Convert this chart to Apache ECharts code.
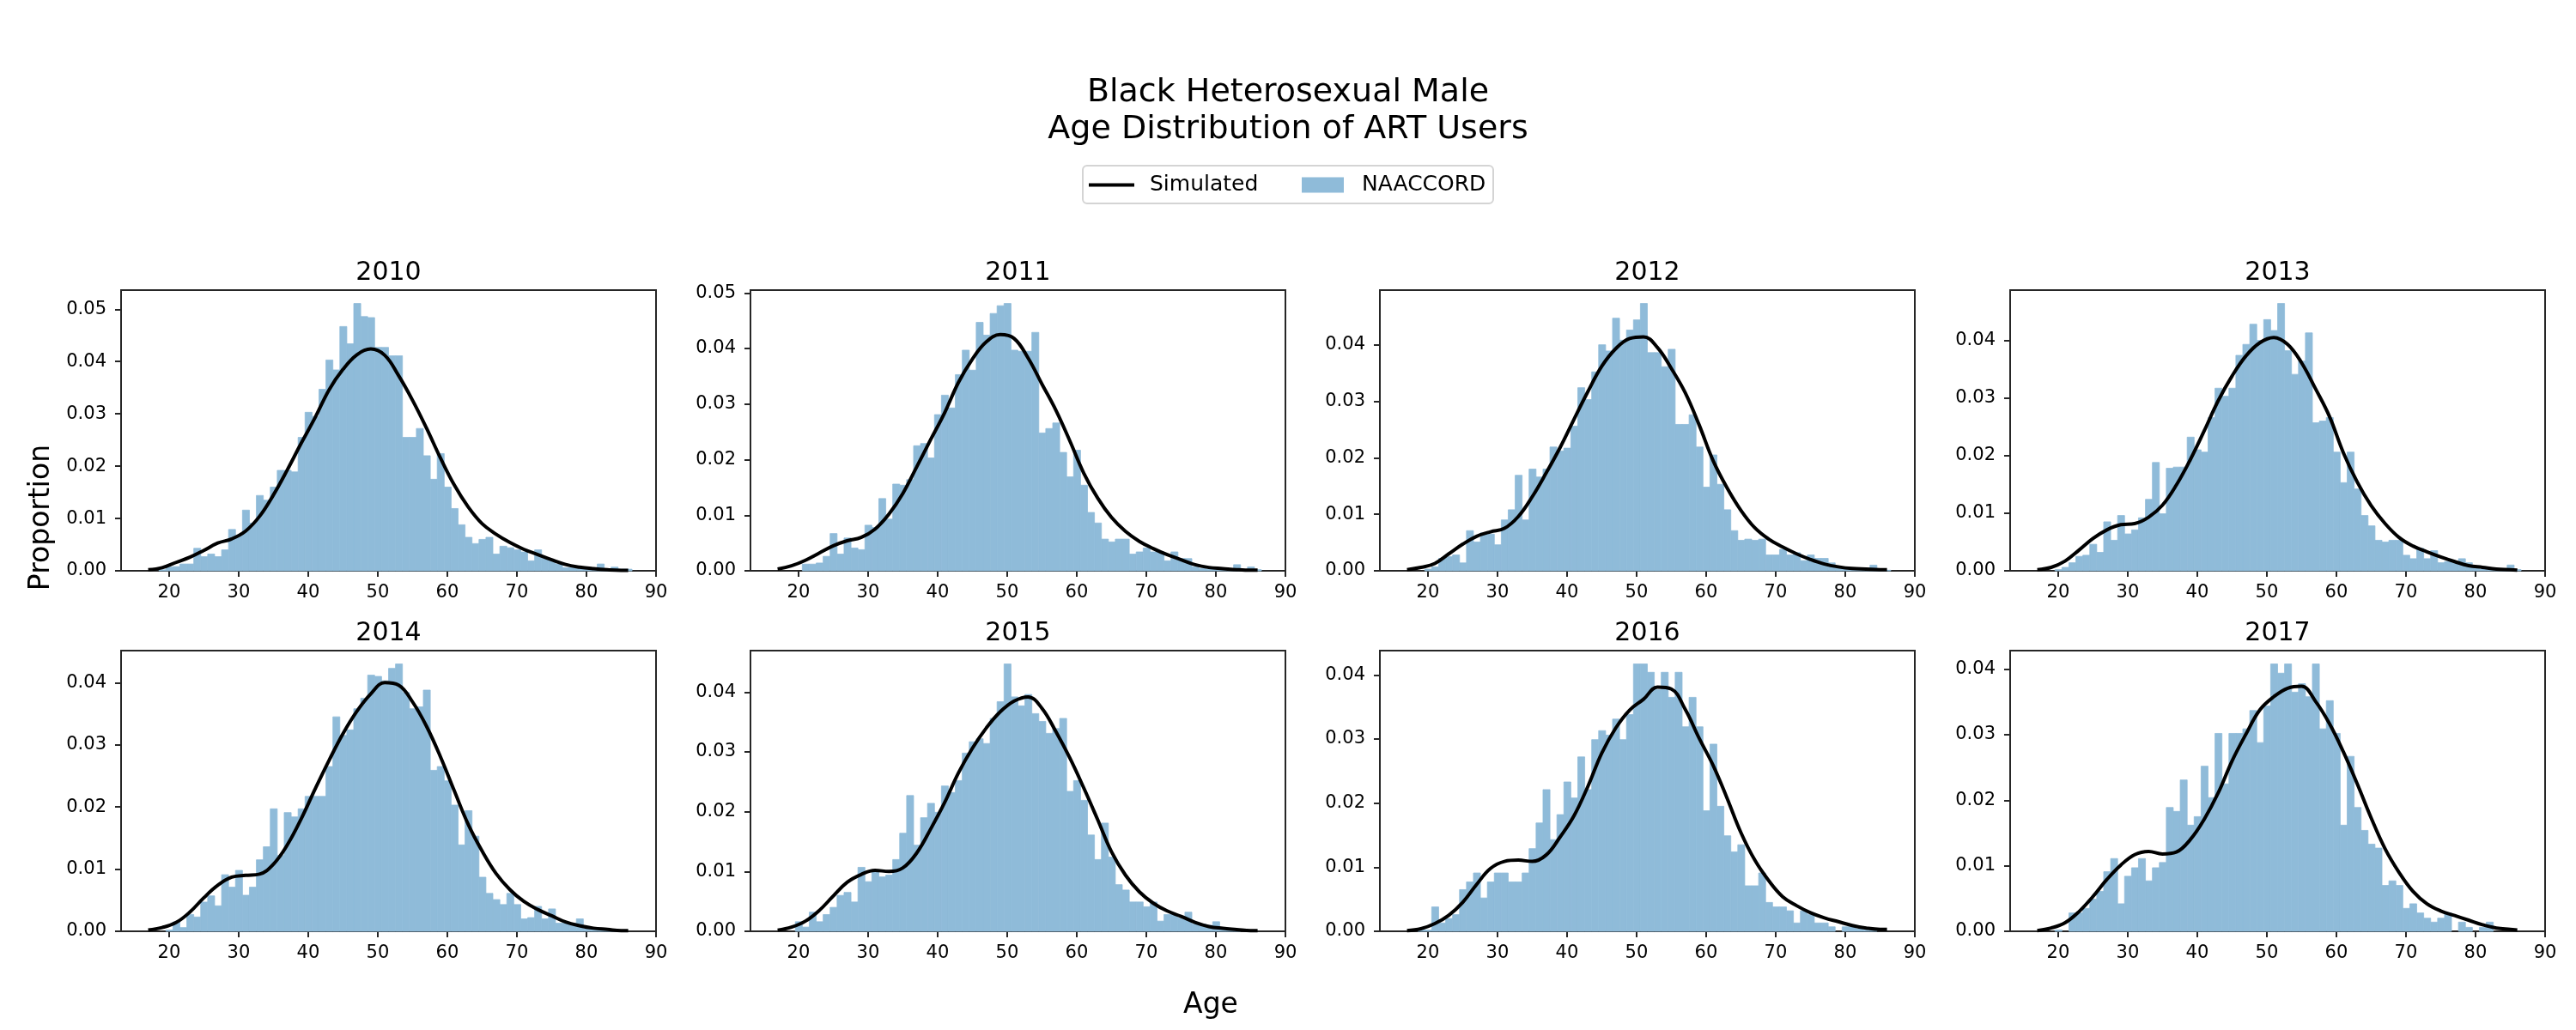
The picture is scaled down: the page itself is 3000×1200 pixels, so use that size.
<!DOCTYPE html>
<html>
<head>
<meta charset="utf-8">
<title>Black Heterosexual Male - Age Distribution of ART Users</title>
<script src="https://cdn.jsdelivr.net/npm/echarts@6/dist/echarts.min.js"></script>
<style>
  html, body { margin: 0; padding: 0; background: #fff; }
  #chart { width: 3000px; height: 1200px; }
</style>
</head>
<body>
<div id="chart"></div>
<script>
const years = ['2010', '2011', '2012', '2013', '2014', '2015', '2016', '2017']

// histogram bins (one per year of age)
const ages = [
  19, 20, 21, 22, 23, 24, 25, 26, 27, 28,
  29, 30, 31, 32, 33, 34, 35, 36, 37, 38,
  39, 40, 41, 42, 43, 44, 45, 46, 47, 48,
  49, 50, 51, 52, 53, 54, 55, 56, 57, 58,
  59, 60, 61, 62, 63, 64, 65, 66, 67, 68,
  69, 70, 71, 72, 73, 74, 75, 76, 77, 78,
  79, 80, 81, 82, 83, 84, 85, 86
]

// ages where the simulated curve was read
const kdeAges = [17, 19, 21, 23, 25, 27, 29, 31, 33, 35, 37, 39, 41, 43, 45, 47, 49, 51,
  53, 55, 57, 59, 61, 63, 65, 67, 69, 71, 73, 75, 77, 79, 81, 83, 85, 86]

const xTicks = [20, 30, 40, 50, 60, 70, 80, 90]

const naaccord2010 = [
  .0002, .0007, .0008, .0013, .0013, .0043, .0027, .0032, .0027, .0040,
  .0079, .0067, .0116, .0091, .0144, .0135, .0160, .0192, .0192, .0189,
  .0255, .0303, .0295, .0347, .0403, .0384, .0467, .0434, .0511, .0486,
  .0484, .0427, .0427, .0411, .0411, .0255, .0255, .0272, .0220, .0175,
  .0224, .0160, .0119, .0088, .0064, .0052, .0060, .0064, .0032, .0047,
  .0044, .0040, .0036, .0019, .0040, .0024, .0019, .0013, .0006, .0006,
  .0004, .0004, .0003, .0013, .0003, .0007, .0003, .0003
]
const naaccord2011 = [
  0, 0, .0012, .0012, .0014, .0026, .0067, .0030, .0059, .0041,
  .0038, .0082, .0078, .0130, .0093, .0156, .0154, .0164, .0225, .0229,
  .0203, .0281, .0316, .0293, .0353, .0397, .0361, .0447, .0424, .0463,
  .0477, .0481, .0397, .0395, .0395, .0429, .0248, .0256, .0266, .0213,
  .0169, .0217, .0154, .0105, .0086, .0057, .0052, .0057, .0057, .0030,
  .0034, .0041, .0034, .0034, .0018, .0034, .0022, .0022, .0007, .0004,
  .0003, .0003, .0002, .0002, .0011, .0002, .0007, .0002
]
const naaccord2012 = [
  0, .0003, .0007, .0022, .0025, .0028, .0014, .0071, .0051, .0067,
  .0065, .0046, .0090, .0108, .0169, .0090, .0180, .0166, .0180, .0219,
  .0212, .0217, .0256, .0324, .0303, .0352, .0400, .0389, .0447, .0408,
  .0426, .0444, .0473, .0386, .0386, .0361, .0392, .0259, .0259, .0276,
  .0219, .0148, .0205, .0153, .0108, .0071, .0054, .0056, .0054, .0056,
  .0028, .0028, .0038, .0028, .0032, .0018, .0028, .0022, .0022, .0014,
  .0007, .0004, .0003, .0002, .0002, .0010, .0002, .0001
]
const naaccord2013 = [
  0, .0002, .0006, .0014, .0025, .0027, .0046, .0032, .0085, .0053,
  .0096, .0064, .0071, .0092, .0124, .0188, .0099, .0178, .0180, .0180,
  .0232, .0210, .0206, .0266, .0317, .0303, .0317, .0374, .0393, .0428,
  .0400, .0436, .0417, .0464, .0382, .0341, .0364, .0413, .0257, .0260,
  .0266, .0206, .0153, .0206, .0142, .0096, .0078, .0053, .0050, .0053,
  .0053, .0027, .0021, .0039, .0021, .0035, .0014, .0016, .0014, .0021,
  .0014, .0005, .0003, .0003, .0002, .0002, .0010, .0002
]
const naaccord2014 = [
  0, .0002, .0015, .0006, .0027, .0023, .0047, .0057, .0041, .0091,
  .0071, .0098, .0058, .0071, .0115, .0136, .0197, .0122, .0191, .0184,
  .0197, .0217, .0217, .0217, .0265, .0345, .0315, .0324, .0358, .0375,
  .0412, .0410, .0403, .0423, .0430, .0384, .0358, .0361, .0388, .0259,
  .0265, .0242, .0203, .0139, .0194, .0153, .0087, .0061, .0051, .0043,
  .0061, .0043, .0020, .0022, .0040, .0020, .0036, .0013, .0013, .0013,
  .0020, .0004, .0003, .0002, .0001, .0001, .0001, 0
]
const naaccord2015 = [
  0, .0016, .0007, .0032, .0016, .0028, .0040, .0060, .0065, .0049,
  .0107, .0083, .0100, .0091, .0094, .0120, .0164, .0227, .0144, .0190,
  .0214, .0199, .0243, .0232, .0252, .0298, .0317, .0322, .0314, .0356,
  .0384, .0447, .0392, .0377, .0396, .0364, .0351, .0331, .0339, .0356,
  .0234, .0252, .0219, .0161, .0120, .0181, .0124, .0078, .0069, .0049,
  .0049, .0041, .0049, .0017, .0028, .0028, .0022, .0032, .0012, .0012,
  .0010, .0016, .0003, .0001, .0001, 0, 0, 0
]
const naaccord2016 = [
  .0002, .0002, .0038, .0013, .0020, .0026, .0065, .0077, .0091, .0052,
  .0077, .0091, .0091, .0077, .0077, .0091, .0129, .0169, .0221, .0143,
  .0182, .0233, .0208, .0272, .0221, .0299, .0313, .0306, .0331, .0299,
  .0338, .0417, .0417, .0404, .0377, .0404, .0365, .0404, .0319, .0365,
  .0319, .0188, .0292, .0195, .0149, .0124, .0135, .0071, .0071, .0091,
  .0045, .0038, .0038, .0032, .0013, .0032, .0026, .0013, .0013, .0007,
  0, .0007, .0007, .0004, .0002, .0002, 0, 0
]
const naaccord2017 = [
  0, .0002, 0, .0028, .0028, .0035, .0049, .0061, .0091, .0111,
  .0042, .0084, .0097, .0111, .0077, .0097, .0105, .0189, .0183, .0231,
  .0162, .0175, .0252, .0204, .0302, .0225, .0302, .0302, .0309, .0337,
  .0288, .0344, .0408, .0394, .0408, .0365, .0378, .0358, .0408, .0309,
  .0352, .0302, .0162, .0267, .0189, .0154, .0133, .0127, .0070, .0077,
  .0070, .0035, .0042, .0028, .0020, .0014, .0020, .0028, 0, .0014,
  .0006, 0, .0006, .0014, 0, 0, 0, 0
]

const simulated2010 = [.0002, .0006, .0016, .0026, .0039, .0053, .0061, .0076, .0104, .0145,
  .0193, .0244, .0293, .0346, .0385, .0413, .0424, .0412, .0373, .0326, .0273, .0216,
  .0164, .0122, .0090, .0070, .0054, .0041, .0031, .0021, .0012, .0007, .0004, .0002, .0001, .0001]
const simulated2011 = [.0003, .0009, .0019, .0032, .0045, .0054, .0060, .0075, .0102, .0139,
  .0187, .0236, .0284, .0339, .0381, .0412, .0425, .0418, .0383, .0336, .0289, .0234,
  .0176, .0131, .0096, .0071, .0053, .0040, .0029, .0020, .0011, .0006, .0004, .0002, .0001, .0001]
const simulated2012 = [.0002, .0006, .0013, .0030, .0047, .0061, .0069, .0075, .0096, .0131,
  .0173, .0218, .0268, .0317, .0362, .0393, .0411, .0414, .0395, .0358, .0315, .0258,
  .0195, .0147, .0107, .0076, .0056, .0042, .0030, .0020, .0012, .0007, .0004, .0003, .0002, .0002]
const simulated2013 = [.0002, .0006, .0017, .0036, .0056, .0071, .0080, .0082, .0093, .0114,
  .0149, .0193, .0243, .0295, .0338, .0373, .0396, .0405, .0393, .0361, .0316, .0268,
  .0205, .0154, .0113, .0082, .0058, .0043, .0033, .0024, .0016, .0009, .0006, .0003, .0002, .0001]
const simulated2014 = [.0002, .0006, .0014, .0031, .0054, .0074, .0087, .0090, .0092, .0108,
  .0139, .0181, .0229, .0275, .0318, .0354, .0382, .0400, .0396, .0369, .0330, .0281,
  .0226, .0172, .0129, .0093, .0067, .0048, .0035, .0025, .0015, .0009, .0005, .0003, .0001, .0001]
const simulated2015 = [.0002, .0007, .0017, .0035, .0059, .0082, .0095, .0102, .0100, .0106,
  .0131, .0171, .0215, .0265, .0306, .0340, .0367, .0385, .0392, .0373, .0334, .0290,
  .0240, .0187, .0133, .0094, .0066, .0047, .0034, .0025, .0015, .0008, .0005, .0003, .0001, .0001]
const simulated2016 = [.0001, .0004, .0012, .0025, .0045, .0073, .0098, .0109, .0111, .0109,
  .0119, .0147, .0180, .0226, .0278, .0317, .0345, .0362, .0381, .0378, .0346, .0301,
  .0259, .0208, .0154, .0111, .0079, .0054, .0040, .0029, .0021, .0015, .0009, .0005, .0003, .0003]
const simulated2017 = [.0001, .0005, .0013, .0030, .0053, .0079, .0101, .0117, .0122, .0118,
  .0121, .0140, .0171, .0211, .0260, .0301, .0338, .0358, .0371, .0374, .0351, .0317,
  .0274, .0225, .0173, .0126, .0090, .0061, .0042, .0031, .0024, .0017, .0010, .0005, .0003, .0002]

const naaccord = [naaccord2010, naaccord2011, naaccord2012, naaccord2013,
  naaccord2014, naaccord2015, naaccord2016, naaccord2017]
const simulated = [simulated2010, simulated2011, simulated2012, simulated2013,
  simulated2014, simulated2015, simulated2016, simulated2017]

const font = 'DejaVu Sans'
const ink = '#262626'
const barColor = '#8fbbd9'
const panelLeft = [141, 874, 1607, 2341]
const panelTop = [338, 758]
const panelW = 623
const panelH = 327

// bins run from age - 0.45 to age + 0.55; a thin same-colour stroke hides seams
const renderBin = (params, api) => {
  const a = api.value(0)
  const v = api.value(1)
  if (!v) return null
  const p0 = api.coord([a - 0.45, v])
  const p1 = api.coord([a + 0.55, 0])
  return {
    type: 'rect',
    shape: { x: p0[0], y: p0[1], width: p1[0] - p0[0], height: p1[1] - p0[1] },
    style: { fill: barColor, stroke: barColor, lineWidth: 0.8 }
  }
}

const grid = []
const xAxis = []
const yAxis = []
const series = []
const title = [{
  text: 'Black Heterosexual Male\nAge Distribution of ART Users',
  left: 1500,
  top: 87,
  textAlign: 'center',
  padding: 0,
  textStyle: { fontSize: 38, fontWeight: 'normal', color: '#000', fontFamily: font, lineHeight: 43 }
}]

years.forEach((yr, i) => {
  const left = panelLeft[i % 4]
  const top = panelTop[Math.floor(i / 4)]
  const yMax = Math.max(...naaccord[i]) * 1.05
  const yTicks = []
  for (let k = 0; k * 0.01 <= yMax + 1e-9; k++) yTicks.push(+(k * 0.01).toFixed(2))

  grid.push({
    left, top, width: panelW, height: panelH,
    show: true, borderColor: ink, borderWidth: 2, backgroundColor: 'transparent',
    outerBoundsMode: 'none'
  })
  xAxis.push({
    type: 'value', gridIndex: i, min: 13.1, max: 90,
    axisLine: { show: false },
    splitLine: { show: false },
    axisTick: { show: true, length: 7, lineStyle: { color: ink, width: 2 }, customValues: xTicks },
    axisLabel: { customValues: xTicks, fontSize: 21, color: '#000', margin: 15, fontFamily: font }
  })
  yAxis.push({
    type: 'value', gridIndex: i, min: 0, max: yMax,
    axisLine: { show: false },
    splitLine: { show: false },
    axisTick: { show: true, length: 7, lineStyle: { color: ink, width: 2 }, customValues: yTicks },
    axisLabel: {
      customValues: yTicks, fontSize: 21, color: '#000', margin: 17, fontFamily: font,
      formatter: v => v.toFixed(2)
    }
  })
  series.push({
    name: 'NAACCORD',
    type: 'custom',
    xAxisIndex: i,
    yAxisIndex: i,
    renderItem: renderBin,
    itemStyle: { color: barColor },
    encode: { x: 0, y: 1 },
    data: ages.map((a, k) => [a, naaccord[i][k]]),
    z: 1,
    silent: true
  })
  series.push({
    name: 'Simulated',
    type: 'line',
    xAxisIndex: i,
    yAxisIndex: i,
    data: kdeAges.map((a, k) => [a, simulated[i][k]]),
    symbol: 'none',
    showSymbol: false,
    smooth: 0.4,
    lineStyle: { color: '#000', width: 4 },
    itemStyle: { color: '#000' },
    z: 3,
    silent: true
  })
  title.push({
    text: yr,
    left: left + panelW / 2,
    top: top - 35,
    textAlign: 'center',
    padding: 0,
    textStyle: { fontSize: 30, fontWeight: 'normal', color: '#000', fontFamily: font, lineHeight: 30 }
  })
})

const chart = echarts.init(document.getElementById('chart'))

chart.setOption({
  animation: false,
  backgroundColor: '#fff',
  textStyle: { fontFamily: font },
  title,
  legend: [
    {
      data: [{ name: 'Simulated', icon: 'rect', itemStyle: { borderWidth: 0 } }],
      left: 1268, top: 203, padding: 0,
      itemWidth: 53, itemHeight: 4,
      selectedMode: false, z: 5,
      textStyle: { fontSize: 25, color: '#000', fontFamily: font, lineHeight: 24, padding: [0, 0, 0, 13] }
    },
    {
      data: [{ name: 'NAACCORD', icon: 'rect', itemStyle: { borderWidth: 0 } }],
      left: 1516, top: 203, padding: 0,
      itemWidth: 49, itemHeight: 18,
      selectedMode: false, z: 5,
      textStyle: { fontSize: 25, color: '#000', fontFamily: font, lineHeight: 24, padding: [0, 0, 0, 16] }
    }
  ],
  graphic: [
    {
      type: 'rect', z: 0,
      shape: { x: 1261, y: 193, width: 478, height: 44, r: 5 },
      style: { fill: '#fff', stroke: '#d4d4d4', lineWidth: 2 }
    },
    {
      type: 'text', x: 48, y: 603, rotation: Math.PI / 2,
      style: { text: 'Proportion', fontSize: 33, fill: '#000', fontFamily: font, align: 'center', verticalAlign: 'middle' }
    },
    {
      type: 'text', x: 1410, y: 1171,
      style: { text: 'Age', fontSize: 33, fill: '#000', fontFamily: font, align: 'center', verticalAlign: 'middle' }
    }
  ],
  grid,
  xAxis,
  yAxis,
  series
})

window.addEventListener('resize', () => chart.resize())
</script>
</body>
</html>
